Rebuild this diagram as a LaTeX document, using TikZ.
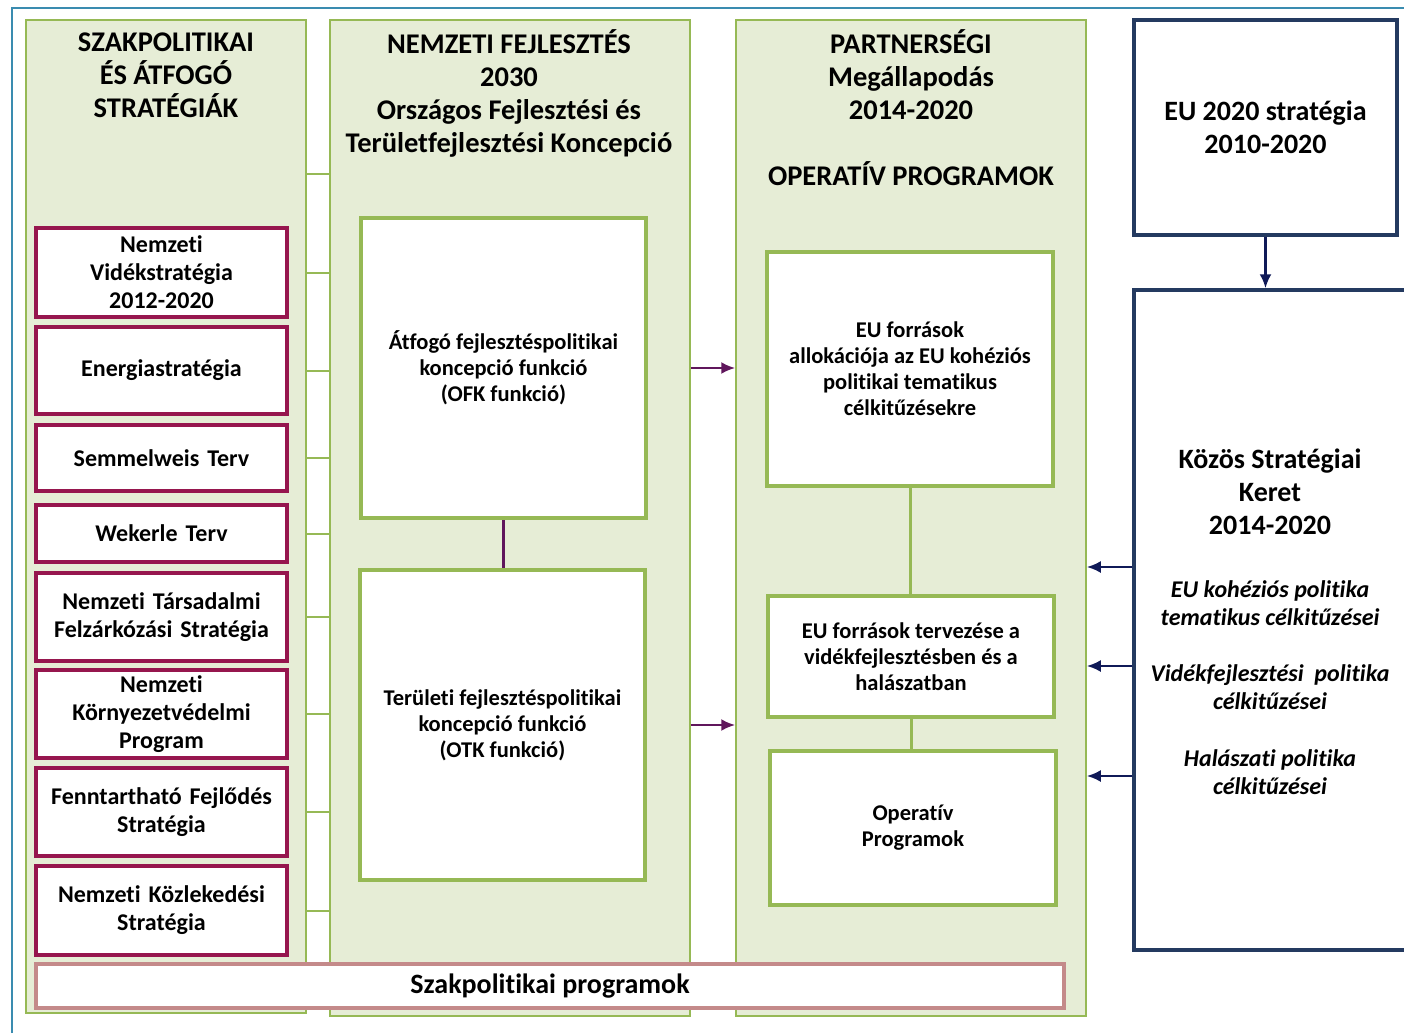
\documentclass[tikz,border=0pt]{standalone}
\usepackage{fontspec}
\setmainfont{Carlito}[Ligatures=NoCommon]
\usetikzlibrary{arrows.meta}
\usetikzlibrary{positioning}
\definecolor{oszlop}{RGB}{230,237,214}
\definecolor{zold}{RGB}{150,185,85}
\definecolor{bordo}{RGB}{150,22,78}
\definecolor{sotetkek}{RGB}{36,58,96}
\definecolor{nyilkek}{RGB}{16,26,88}
\definecolor{lila}{RGB}{96,22,92}
\definecolor{keret}{RGB}{58,140,176}
\definecolor{rozsa}{RGB}{196,138,138}
\tikzset{oszlopdoboz/.style = {draw=zold, line width=1.5pt, fill=oszlop, inner sep=0}}
\tikzset{strat/.style = {draw=bordo, line width=4pt, fill=white, minimum width=251pt, text width=245pt, align=center, inner sep=0, font=\fontsize{24}{28}\selectfont\bfseries}}
\tikzset{belso/.style = {draw=zold, line width=4pt, fill=white, minimum width=286pt, align=center, inner sep=0, font=\fontsize{22.5}{26}\selectfont\bfseries}}
\tikzset{eudoboz/.style = {draw=sotetkek, line width=3.5pt, fill=white, inner sep=0}}
\tikzset{cim/.style = {align=center, inner sep=0, anchor=north, font=\fontsize{28.5}{33}\selectfont\bfseries}}
\tikzset{zoldvonal/.style = {draw=zold, line width=2pt}}
\tikzset{lilanyil/.style = {draw=lila, line width=2.5pt, -{Latex[length=14pt, width=12pt]}}}
\tikzset{keknyil/.style = {draw=nyilkek, line width=2.5pt, -{Latex[length=14pt, width=12pt]}}}

\begin{document}
\begin{tikzpicture}[x=1pt, y=-1pt]
      \useasboundingbox (0, 0) rectangle (1404, 1033);
      \draw [keret, line width=1.5pt] (12, 1033) -- (12, 8) -- (1404, 8);

      % harom oszlop
      \node [oszlopdoboz, minimum width=280pt, minimum height=993pt] (szak) at (166, 516.5) {};
      \node [oszlopdoboz, minimum width=360pt, minimum height=996pt] (nfk) at (510, 518) {};
      \node [oszlopdoboz, minimum width=350pt, minimum height=996pt] (pm) at (911, 518) {};

      \node [cim] (szakcim) at (166, 33) {SZAKPOLITIKAI\\ÉS ÁTFOGÓ\\STRATÉGIÁK};
      \node [cim] (nfkcim) at (509, 29) {NEMZETI FEJLESZTÉS\\2030\\Országos Fejlesztési és\\Területfejlesztési Koncepció};
      \node [cim] (pmcim) at (911, 29) {PARTNERSÉGI\\Megállapodás\\2014-2020\\[33pt]OPERATÍV PROGRAMOK};

      \coordinate (t0) at (166, 174);
      \draw [zoldvonal] (szak.east |- t0) -- (nfk.west |- t0);

      \foreach \n/\y/\h/\t in {1/272.5/89/{Nemzeti\\Vidékstratégia\\2012-2020},
                               2/370.5/87/{Energiastratégia},
                               3/458/66/{Semmelweis Terv},
                               4/533.5/57/{Wekerle Terv},
                               5/617/88/{Nemzeti Társadalmi\\Felzárkózási Stratégia},
                               6/714/88/{Nemzeti\\Környezetvédelmi\\Program},
                               7/812/88/{Fenntartható Fejlődés\\Stratégia},
                               8/910.5/89/{Nemzeti Közlekedési\\Stratégia}} {
        \node [strat, minimum height=\h pt] (s\n) at (161.5, \y) {\t};
        \draw [zoldvonal] (szak.east |- s\n) -- (nfk.west |- s\n);
      }

      % OFK, OTK
      \node [belso, minimum width=285pt, minimum height=300pt] (ofk) at (503.5, 368) {Átfogó fejlesztéspolitikai\\koncepció funkció\\(OFK funkció)};
      \node [belso, minimum width=285pt, minimum height=310pt] (otk) at (502.5, 725) {Területi fejlesztéspolitikai\\koncepció funkció\\(OTK funkció)};
      \draw [lila, line width=2.5pt] (ofk.south) -- (ofk.south |- otk.north);
      \draw [lilanyil] (nfk.east |- ofk) -- (pm.west |- ofk);
      \draw [lilanyil] (nfk.east |- otk) -- (pm.west |- otk);

      % operativ programok
      \node [belso, minimum height=234pt] (alloc) at (910, 369) {EU források\\allokációja az EU kohéziós\\politikai tematikus\\célkitűzésekre};
      \node [belso, minimum height=121pt] (terv) at (911, 656.5) {EU források tervezése a\\vidékfejlesztésben és a\\halászatban};
      \node [belso, minimum height=154pt] (op) at (913, 828) {Operatív\\Programok};
      \draw [zoldvonal, line width=3pt] (alloc.south) -- (alloc.south |- terv.north);
      \draw [zoldvonal, line width=3pt] (terv.south) -- (terv.south |- op.north);

      % EU oldal
      \node [eudoboz, minimum width=263pt, minimum height=215pt, align=center, font=\fontsize{28}{33}\selectfont\bfseries] (eu2020) at (1265.5, 127.5) {EU 2020 stratégia\\2010-2020};
      \node [eudoboz, minimum width=272pt, minimum height=660pt] (ksk) at (1270, 620) {};
      \draw [keknyil] (eu2020.south) -- (eu2020.south |- ksk.north);

      \node [cim, anchor=center, font=\fontsize{28}{33}\selectfont\bfseries] (ksktitle) at (1270, 491.5) {Közös Stratégiai\\Keret\\2014-2020};
      \node [cim, anchor=center, font=\fontsize{24}{28}\selectfont\bfseries\itshape] (kc1) at (1270, 603) {EU kohéziós politika\\tematikus célkitűzései};
      \node [cim, anchor=center, font=\fontsize{24}{28}\selectfont\bfseries\itshape] (kc2) at (1270, 687) {Vidékfejlesztési\ \ politika\\célkitűzései};
      \node [cim, anchor=center, font=\fontsize{24}{28}\selectfont\bfseries\itshape] (kc3) at (1270, 772) {Halászati\ politika\\célkitűzései};

      \coordinate (k1) at ([yshift=53pt]ksk.west);
      \coordinate (k2) at ([yshift=-46pt]ksk.west);
      \coordinate (k3) at ([yshift=-156pt]ksk.west);
      \foreach \k in {k1, k2, k3} {
        \draw [keknyil] (\k) -- (pm.east |- \k);
      }

      \node [draw=rozsa, line width=4pt, fill=white, minimum width=1028pt, minimum height=44pt, inner sep=0, font=\fontsize{28}{32}\selectfont\bfseries] (szprog) at (550, 986) {Szakpolitikai programok};
    \end{tikzpicture}
\end{document}
